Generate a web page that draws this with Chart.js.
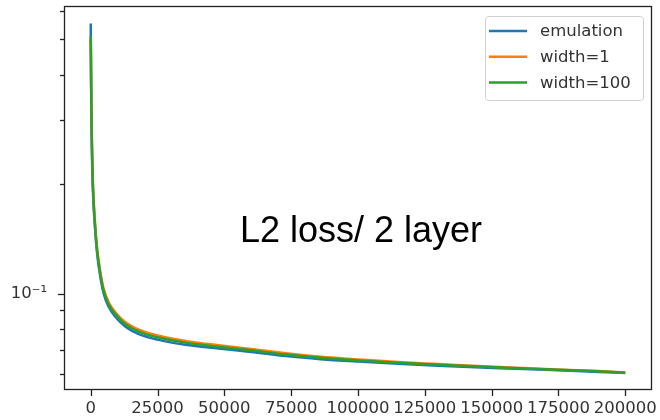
<!DOCTYPE html>
<html>
<head>
<meta charset="utf-8">
<script src="https://cdn.jsdelivr.net/npm/chart.js@4/dist/chart.umd.min.js"></script>
<style>
  body { margin: 0; background: #fff; }
  canvas { display: block; }
</style>
</head>
<body>
<canvas id="grafico" width="660" height="420"></canvas>
<script>
// Dados
const passos = [0, 150, 350, 750, 1500, 2400, 3600, 4850, 6700, 9200, 13000, 18000, 25400, 35400, 47800, 60000, 73000, 86000, 100000, 115000, 130000, 153000, 170000, 190000, 200000];
const emulacao = [0.553, 0.37, 0.272, 0.199, 0.155, 0.1285, 0.1110, 0.1000, 0.0920, 0.0864, 0.0811, 0.0774, 0.0746, 0.0723, 0.0706, 0.0691, 0.0673, 0.0660, 0.0650, 0.0641, 0.0633, 0.0623, 0.0617, 0.0609, 0.0605];
const largura1 = [0.50, 0.39, 0.29, 0.208, 0.161, 0.1330, 0.1147, 0.1030, 0.0947, 0.0889, 0.0834, 0.0796, 0.0766, 0.0741, 0.0721, 0.0704, 0.0685, 0.0670, 0.0659, 0.0648, 0.0640, 0.0628, 0.0620, 0.0612, 0.0607];
const largura100 = [0.512, 0.38, 0.28, 0.204, 0.1585, 0.1311, 0.1131, 0.1017, 0.0935, 0.0878, 0.0824, 0.0786, 0.0757, 0.0733, 0.0714, 0.0698, 0.0680, 0.0666, 0.0655, 0.0645, 0.0637, 0.0626, 0.0619, 0.0611, 0.0606];
const nomes = ["emulation", "width=1", "width=100"];
const cores = ["#1f77b4", "#ff7f0e", "#2ca02c"];
const ticksX = [0, 25000, 50000, 75000, 100000, 125000, 150000, 175000, 200000];
const ticksY = [0.06, 0.07, 0.08, 0.09, 0.1, 0.2, 0.3, 0.4, 0.5, 0.6];
const titulo = "L2 loss/ 2 layer";

const fonte = "'DejaVu Sans', sans-serif";

function pontos(valores) {
  return passos.map((p, i) => ({ x: p, y: valores[i] }));
}

// moldura, marcas dos eixos, legenda e texto
const extras = {
  id: "extras",
  afterDraw(chart) {
    const ctx = chart.ctx;
    const a = chart.chartArea;
    const sx = chart.scales.x, sy = chart.scales.y;
    ctx.save();
    ctx.strokeStyle = "#222";
    ctx.lineWidth = 1.3;
    // marcas x
    ticksX.forEach(v => {
      const px = Math.round(sx.getPixelForValue(v)) + 0.5;
      ctx.beginPath(); ctx.moveTo(px, a.bottom); ctx.lineTo(px, a.bottom + 6); ctx.stroke();
    });
    // marcas y
    ticksY.forEach(v => {
      const py = Math.round(sy.getPixelForValue(v)) + 0.5;
      const len = v === 0.1 ? 6 : 4;
      ctx.beginPath(); ctx.moveTo(a.left, py); ctx.lineTo(a.left - len, py); ctx.stroke();
    });
    // moldura
    ctx.strokeRect(a.left + 0.5, a.top + 0.5, a.right - a.left - 1, a.bottom - a.top - 1);

    // legenda
    const lx = 485, ly = 16, lw = 158, lh = 84;
    ctx.fillStyle = "rgba(255,255,255,0.8)";
    ctx.strokeStyle = "#d0d0d0";
    ctx.lineWidth = 1;
    ctx.beginPath();
    ctx.roundRect(lx + 0.5, ly + 0.5, lw, lh, 3);
    ctx.fill(); ctx.stroke();
    ctx.font = "16.5px " + fonte;
    ctx.textBaseline = "middle";
    ctx.textAlign = "left";
    chart.data.datasets.forEach((d, i) => {
      const y = 31 + i * 25.7;
      ctx.strokeStyle = d.borderColor;
      ctx.lineWidth = 2.5;
      ctx.beginPath(); ctx.moveTo(489, y); ctx.lineTo(527, y); ctx.stroke();
      ctx.fillStyle = "#333";
      ctx.fillText(d.label, 540, y + 1);
    });

    // texto central
    ctx.fillStyle = "#000";
    ctx.font = "36px 'Liberation Sans', Arial, sans-serif";
    ctx.textAlign = "center";
    ctx.textBaseline = "alphabetic";
    ctx.fillText(titulo, 361, 242);
    ctx.restore();
  }
};

new Chart(document.getElementById("grafico"), {
  type: "line",
  data: {
    datasets: [emulacao, largura1, largura100].map((v, i) => ({
      label: nomes[i],
      data: pontos(v),
      borderColor: cores[i],
      backgroundColor: cores[i],
      borderWidth: 2.5,
      pointRadius: 0,
      cubicInterpolationMode: "monotone",
      fill: false,
      order: 2 - i
    }))
  },
  options: {
    responsive: false,
    animation: false,
    layout: { padding: { top: 6, right: 8, left: 0, bottom: 0 } },
    plugins: { legend: { display: false }, tooltip: { enabled: false } },
    scales: {
      x: {
        type: "linear",
        min: -10000,
        max: 210000,
        afterBuildTicks: s => { s.ticks = ticksX.map(v => ({ value: v })); },
        afterFit: s => { s.height = 30; s.paddingLeft = 0; s.paddingRight = 0; },
        grid: { display: false, drawTicks: false },
        border: { display: false },
        ticks: {
          autoSkip: false, maxRotation: 0, padding: 9,
          color: "#333", font: { family: fonte, size: 16.5 },
          callback: v => String(v)
        }
      },
      y: {
        type: "logarithmic",
        min: 0.0543,
        max: 0.618,
        afterBuildTicks: s => { s.ticks = ticksY.map(v => ({ value: v })); },
        afterFit: s => { s.width = 64; s.paddingTop = 0; s.paddingBottom = 0; },
        grid: { display: false, drawTicks: false },
        border: { display: false },
        ticks: {
          autoSkip: false, padding: 17,
          color: "#333", font: { family: fonte, size: 16.5 },
          callback: v => (v === 0.1 ? "10⁻¹" : "")
        }
      }
    }
  },
  plugins: [extras]
});
</script>
</body>
</html>
